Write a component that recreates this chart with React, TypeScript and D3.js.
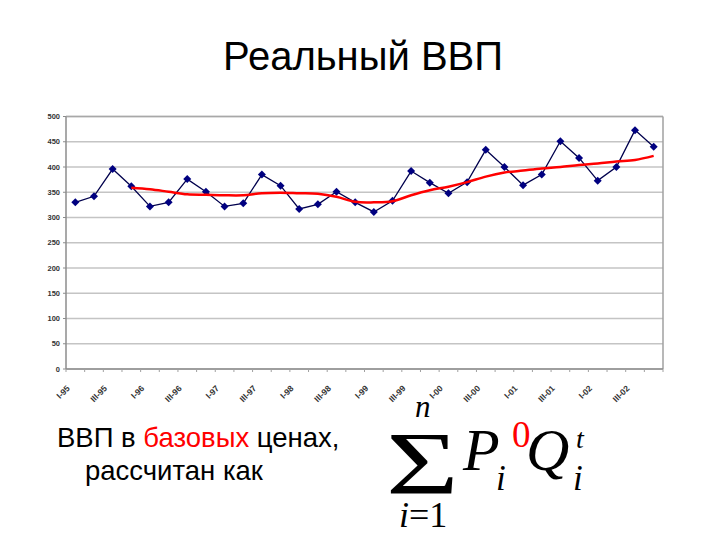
import React from "react";
import * as d3 from "d3";

const quarters = [
  "I-95", "II-95", "III-95", "IV-95",
  "I-96", "II-96", "III-96", "IV-96",
  "I-97", "II-97", "III-97", "IV-97",
  "I-98", "II-98", "III-98", "IV-98",
  "I-99", "II-99", "III-99", "IV-99",
  "I-00", "II-00", "III-00", "IV-00",
  "I-01", "II-01", "III-01", "IV-01",
  "I-02", "II-02", "III-02", "IV-02",
];

const gdpValues = [
  330, 342, 396, 362,
  322, 330, 376, 351,
  322, 328, 385, 363,
  317, 326, 351, 330,
  311, 333, 392, 369,
  348, 370, 434, 400,
  364, 385, 451, 418,
  373, 400, 473, 440,
];

const trendValues: (number | null)[] = [
  null, null, null, 359,
  356, 351, 346, 345,
  344, 344, 348, 349,
  348, 347, 341, 331,
  330, 332, 344, 354,
  361, 370, 381, 389,
  393, 397, 400, 404,
  407, 411, 414, 422,
];

const yTicks = [0, 50, 100, 150, 200, 250, 300, 350, 400, 450, 500];

const shownLabels = quarters.filter((q) => q.startsWith("I-") || q.startsWith("III-"));

export default function App() {
  const left = 66;
  const right = 663;
  const top = 116.5;
  const bottom = 369;

  const x = d3.scaleBand<string>().domain(quarters).range([left, right]).padding(0);
  const y = d3.scaleLinear().domain([0, 500]).range([bottom, top]);
  const cx = (q: string) => (x(q) as number) + x.bandwidth() / 2;

  const dataLine = d3
    .line<number>()
    .x((_, i) => cx(quarters[i]))
    .y((d) => y(d))(gdpValues) as string;

  const trendPts = trendValues
    .map((v, i) => ({ q: quarters[i], v }))
    .filter((d) => d.v !== null) as { q: string; v: number }[];
  const trendLine = d3
    .line<{ q: string; v: number }>()
    .x((d) => cx(d.q))
    .y((d) => y(d.v))
    .curve(d3.curveCatmullRom.alpha(0.5))(trendPts) as string;

  const boundaries = d3.range(quarters.length + 1).map((i) => left + i * x.bandwidth());

  const sans = "'Liberation Sans', Arial, sans-serif";
  const serif = "'Liberation Serif', 'Times New Roman', serif";

  return (
    <div style={{ position: "absolute", left: 0, top: 0 }}>
      <svg width={720} height={540} style={{ display: "block", background: "#fff" }}>
        <text x={363} y={70} textAnchor="middle" fontFamily={sans} fontSize={40} fill="#000">
          Реальный ВВП
        </text>

        {/* gridlines */}
        {yTicks.map((t) => (
          <line key={"g" + t} x1={left} x2={right} y1={y(t)} y2={y(t)} stroke="#c4c4c4" strokeWidth={1.5} />
        ))}
        {/* plot border */}
        <line x1={left} x2={right} y1={top} y2={top} stroke="#a8a8a8" strokeWidth={1.5} />
        <line x1={right} x2={right} y1={top} y2={bottom} stroke="#a0a0a0" strokeWidth={1.5} />
        {/* axes */}
        <line x1={left} x2={left} y1={top} y2={bottom} stroke="#8c8c8c" strokeWidth={1.5} />
        <line x1={left} x2={right} y1={bottom} y2={bottom} stroke="#8c8c8c" strokeWidth={1.5} />

        {yTicks.map((t) => (
          <g key={"y" + t}>
            <line x1={left - 3} x2={left} y1={y(t)} y2={y(t)} stroke="#8c8c8c" strokeWidth={1} />
            <text x={60} y={y(t) + 2.5} textAnchor="end" fontFamily={sans} fontSize={7.5} fontWeight="bold" fill="#333">
              {t}
            </text>
          </g>
        ))}

        {boundaries.map((bx, i) => (
          <line key={"xt" + i} x1={bx} x2={bx} y1={bottom} y2={bottom + 3} stroke="#a0a0a0" strokeWidth={1} />
        ))}

        {shownLabels.map((q) => (
          <text
            key={"xl" + q}
            transform={`translate(${cx(q) - 5},${389}) rotate(-45)`}
            textAnchor="end"
            fontFamily={sans}
            fontSize={8.5}
            fontWeight="bold"
            fill="#333"
          >
            {q}
          </text>
        ))}

        <path d={dataLine} fill="none" stroke="#00004d" strokeWidth={1.3} />
        {gdpValues.map((v, i) => {
          const px = cx(quarters[i]);
          const py = y(v);
          const s = 4;
          return (
            <path
              key={"p" + i}
              d={`M${px},${py - s}L${px + s},${py}L${px},${py + s}L${px - s},${py}Z`}
              fill="#000080"
            />
          );
        })}
        <path d={trendLine} fill="none" stroke="#ff0000" strokeWidth={2.5} />

        {/* bottom text */}
        <text x={57} y={447} fontFamily={sans} fontSize={27.5} fill="#000">
          ВВП в <tspan fill="#ff0000">базовых</tspan> ценах,
        </text>
        <text x={85} y={480} fontFamily={sans} fontSize={27.5} fill="#000">
          рассчитан как
        </text>

        {/* formula */}
        <g fontFamily={serif} fill="#000">
          <text transform="translate(386,493) scale(1.42,1)" x={0} y={0} fontSize={88}>Σ</text>
          <text x={415} y={417} fontSize={31} fontStyle="italic">n</text>
          <text x={399} y={527} fontSize={36}>
            <tspan fontStyle="italic">i</tspan>=1
          </text>
          <text x={463} y={470} fontSize={60} fontStyle="italic">P</text>
          <text x={496} y={490} fontSize={35} fontStyle="italic">i</text>
          <text x={512} y={447} fontSize={37} fill="#ff0000">0</text>
          <text x={526} y={470} fontSize={60} fontStyle="italic">Q</text>
          <text x={576} y={448} fontSize={28} fontStyle="italic">t</text>
          <text x={573} y={490} fontSize={35} fontStyle="italic">i</text>
        </g>
      </svg>
    </div>
  );
}
